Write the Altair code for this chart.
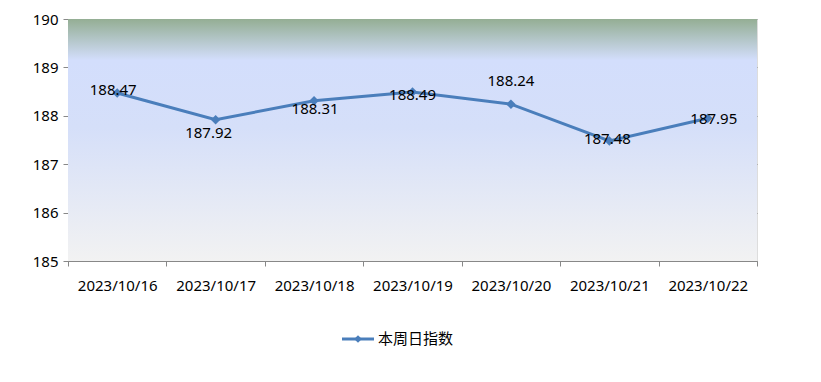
import altair as alt
import pandas as pd

dates = ["2023/10/16", "2023/10/17", "2023/10/18", "2023/10/19",
         "2023/10/20", "2023/10/21", "2023/10/22"]
values = [188.47, 187.92, 188.31, 188.49, 188.24, 187.48, 187.95]
series_name = "本周日指数"
y_ticks = [185, 186, 187, 188, 189, 190]

# label placement (pixel offsets relative to point), style only
label_dx = [-4, -7, 1, 0, 0, -2, 6]
label_dy = [-3, 13, 8, 3, -23, -2, 1]

W, H = 689, 242
FONT = "Noto Sans"
CJK = "Noto Sans CJK SC"

df = pd.DataFrame({"date": dates, "value": values,
                   "dx": label_dx, "dy": label_dy})

x_enc = alt.X("date:N", sort=dates, title=None,
              scale=alt.Scale(paddingInner=0, paddingOuter=0),
              axis=alt.Axis(tickBand="extent", labelAngle=0, labelFontSize=15,
                            labelPadding=12, tickSize=5, tickColor="#888888",
                            domainColor="#888888", labelColor="#000000",
                            labelFont=FONT, labelBound=False))
y_scale = alt.Scale(domain=[185, 190], nice=False, zero=False)
y_enc = alt.Y("value:Q", scale=y_scale, title=None,
              axis=alt.Axis(values=y_ticks, format="d", labelFontSize=15,
                            labelPadding=5, tickSize=5, tickColor="#888888",
                            domainColor="#888888", gridColor="#888888",
                            labelColor="#000000", labelFont=FONT, grid=True,
                            labelBaseline="middle", labelOverlap=False))

bg = alt.Chart(df).mark_rect(
    fill=alt.Gradient(
        gradient="linear", x1=0, x2=0, y1=0, y2=1,
        stops=[alt.GradientStop(offset=0, color="#94ae94"),
               alt.GradientStop(offset=0.17, color="#d3defc"),
               alt.GradientStop(offset=0.45, color="#d5dff9"),
               alt.GradientStop(offset=1, color="#f2f2f2")])
).encode(x=alt.value(0), x2=alt.value(W), y=alt.value(0), y2=alt.value(H))

line = alt.Chart(df).mark_line(color="#4a7ebb", strokeWidth=3).encode(
    x=x_enc, y=y_enc)
pts = alt.Chart(df).mark_point(shape="diamond", filled=True, size=90,
                               color="#4a7ebb", opacity=1).encode(
    x=x_enc, y=y_enc)

texts = []
for dx, dy in sorted(set(zip(label_dx, label_dy))):
    texts.append(
        alt.Chart(df).transform_filter(
            (alt.datum.dx == dx) & (alt.datum.dy == dy)
        ).mark_text(dx=dx, dy=dy, fontSize=15, font=FONT, color="#000000",
                    baseline="middle", align="center").encode(
            x=x_enc, y=y_enc,
            text=alt.Text("value:Q", format=".2f")))

leg_df = pd.DataFrame({"name": [series_name]})
leg_line = alt.Chart(leg_df).mark_rule(color="#4a7ebb", strokeWidth=3).encode(
    x=alt.value(274), x2=alt.value(306), y=alt.value(320))
leg_pt = alt.Chart(leg_df).mark_point(shape="diamond", filled=True, size=60,
                                      color="#4a7ebb", opacity=1).encode(
    x=alt.value(290), y=alt.value(320))
leg_txt = alt.Chart(leg_df).mark_text(align="left", baseline="middle",
                                      fontSize=15, font=CJK,
                                      color="#000000").encode(
    x=alt.value(310), y=alt.value(320), text="name:N")

chart = alt.layer(bg, line, pts, *texts, leg_line, leg_pt,
                  leg_txt).properties(
    width=W, height=H,
    autosize=alt.AutoSizeParams(type="none"),
    padding={"left": 60, "top": 11, "right": 56, "bottom": 113},
).configure_view(stroke=None).configure(background="white")

chart.save("out.html", embed_options={"renderer": "svg", "actions": False})
